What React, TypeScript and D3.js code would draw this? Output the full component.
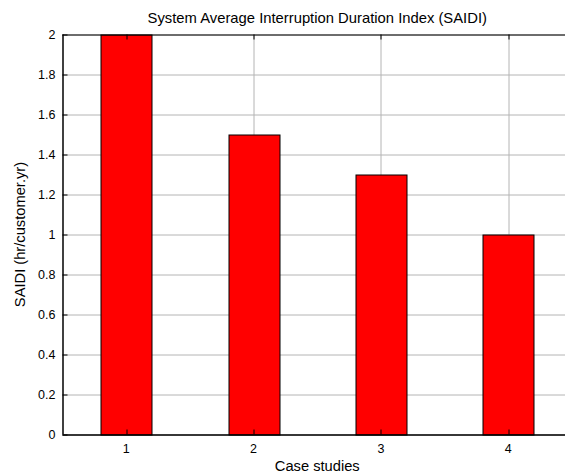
import { useEffect, useRef } from 'react';
import * as d3 from 'd3';

// ─── Data ───────────────────────────────────────────────────

const cases = [1, 2, 3, 4];
const saidi = [2.0, 1.5, 1.3, 1.0];
const yTicks = [0, 0.2, 0.4, 0.6, 0.8, 1, 1.2, 1.4, 1.6, 1.8, 2];

const W = 565;
const H = 473;

export default function App() {
  const svgRef = useRef<SVGSVGElement>(null);

  useEffect(() => {
    if (!svgRef.current) return;
    const svg = d3.select(svgRef.current);
    svg.selectAll('*').remove();

    const margin = { top: 34.5, left: 62.5 };
    const plotW = 509.5;
    const plotH = 400;
    const font = '"Liberation Sans", Arial, sans-serif';

    const g = svg.append('g').attr('transform', `translate(${margin.left},${margin.top})`);

    const x = d3.scaleLinear().domain([0.5, 4.5]).range([0, plotW]);
    const y = d3.scaleLinear().domain([0, 2]).range([plotH, 0]);

    // background
    g.append('rect').attr('width', plotW).attr('height', plotH).attr('fill', '#fff');

    // grid
    g.selectAll('.hgrid')
      .data(yTicks)
      .join('line')
      .attr('x1', 0).attr('x2', plotW)
      .attr('y1', (d) => Math.round(y(d)) + 0.5).attr('y2', (d) => Math.round(y(d)) + 0.5)
      .attr('stroke', '#b4b4b4')
      .attr('stroke-width', 1);
    g.selectAll('.vgrid')
      .data(cases)
      .join('line')
      .attr('x1', (d) => Math.round(x(d)) + 0.5).attr('x2', (d) => Math.round(x(d)) + 0.5)
      .attr('y1', 0).attr('y2', plotH)
      .attr('stroke', '#b4b4b4')
      .attr('stroke-width', 1);

    // bars
    const bw = (x(1.4) - x(1));
    g.selectAll('.bar')
      .data(cases)
      .join('rect')
      .attr('x', (_, i) => Math.round(x(cases[i]) - bw / 2) + 0.5)
      .attr('y', (_, i) => Math.round(y(saidi[i])) + 0.5)
      .attr('width', Math.round(bw))
      .attr('height', (_, i) => Math.round(y(0)) - Math.round(y(saidi[i])))
      .attr('fill', '#ff0000')
      .attr('stroke', '#000')
      .attr('stroke-width', 1);

    // ticks (inward)
    g.selectAll('.xtickTop')
      .data(cases)
      .join('line')
      .attr('x1', (d) => Math.round(x(d)) + 0.5).attr('x2', (d) => Math.round(x(d)) + 0.5)
      .attr('y1', 0).attr('y2', 5)
      .attr('stroke', '#000');
    g.selectAll('.xtickBot')
      .data(cases)
      .join('line')
      .attr('x1', (d) => Math.round(x(d)) + 0.5).attr('x2', (d) => Math.round(x(d)) + 0.5)
      .attr('y1', plotH).attr('y2', plotH - 5)
      .attr('stroke', '#000');
    g.selectAll('.ytick')
      .data(yTicks)
      .join('line')
      .attr('x1', 0).attr('x2', 5)
      .attr('y1', (d) => Math.round(y(d)) + 0.5).attr('y2', (d) => Math.round(y(d)) + 0.5)
      .attr('stroke', '#000');

    // axes lines
    g.append('line').attr('x1', 0).attr('x2', plotW).attr('y1', 0.5).attr('y2', 0.5).attr('stroke', '#000');
    g.append('line').attr('x1', 0).attr('x2', plotW).attr('y1', plotH + 0.5).attr('y2', plotH + 0.5).attr('stroke', '#000').attr('stroke-width', 1.5);
    g.append('line').attr('x1', 0.5).attr('x2', 0.5).attr('y1', 0).attr('y2', plotH).attr('stroke', '#000').attr('stroke-width', 1.5);
    g.append('line').attr('x1', plotW - 0.5).attr('x2', plotW - 0.5).attr('y1', 0).attr('y2', plotH).attr('stroke', '#000');

    // tick labels
    g.selectAll('.ylab')
      .data(yTicks)
      .join('text')
      .attr('x', -7)
      .attr('y', (d) => y(d))
      .attr('dy', '0.36em')
      .attr('text-anchor', 'end')
      .style('font-family', font)
      .style('font-size', '12.5px')
      .text((d) => d3.format('~g')(d));
    g.selectAll('.xlab')
      .data(cases)
      .join('text')
      .attr('x', (d) => x(d))
      .attr('y', plotH + 18)
      .attr('text-anchor', 'middle')
      .style('font-family', font)
      .style('font-size', '12.5px')
      .text((d) => String(d));

    // titles
    svg.append('text')
      .attr('x', margin.left + plotW / 2)
      .attr('y', 23)
      .attr('text-anchor', 'middle')
      .style('font-family', font)
      .style('font-size', '14.8px')
      .text('System Average Interruption Duration Index (SAIDI)');
    svg.append('text')
      .attr('x', margin.left + plotW / 2)
      .attr('y', 471)
      .attr('text-anchor', 'middle')
      .style('font-family', font)
      .style('font-size', '14.7px')
      .text('Case studies');
    svg.append('text')
      .attr('transform', `translate(24.5,${margin.top + plotH / 2}) rotate(-90)`)
      .attr('text-anchor', 'middle')
      .style('font-family', font)
      .style('font-size', '14.7px')
      .text('SAIDI (hr/customer.yr)');
  }, []);

  return (
    <div style={{ position: 'absolute', left: 0, top: 0, width: W, height: H, background: '#fff', overflow: 'hidden' }}>
      <svg ref={svgRef} width={W} height={H} style={{ display: 'block' }} />
    </div>
  );
}
